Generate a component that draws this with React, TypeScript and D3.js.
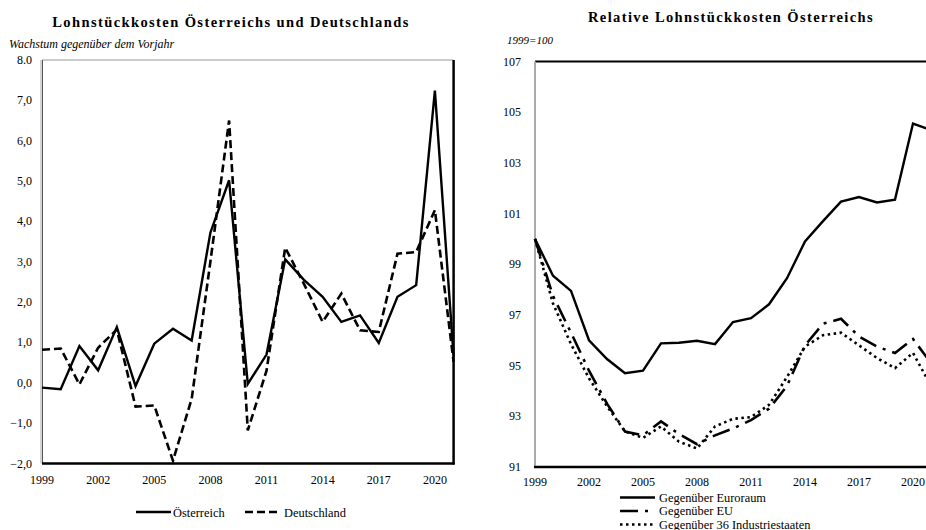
import React, { useRef, useEffect } from 'react';
import * as d3 from 'd3';

// Jahre (Kategorien)
const years = [1999, 2000, 2001, 2002, 2003, 2004, 2005, 2006, 2007, 2008, 2009, 2010,
  2011, 2012, 2013, 2014, 2015, 2016, 2017, 2018, 2019, 2020, 2021];

// Linke Grafik: Wachstum gegenüber dem Vorjahr
const oesterreich = [-0.12, -0.16, 0.91, 0.31, 1.38, -0.08, 0.97, 1.34, 1.05, 3.72, 5.02, -0.03,
  0.7, 3.06, 2.55, 2.13, 1.51, 1.67, 0.99, 2.13, 2.42, 7.24, 0.65];
const deutschland = [0.82, 0.85, -0.04, 0.87, 1.32, -0.59, -0.56, -1.93, -0.4, 3.0, 6.5, -1.18,
  0.3, 3.35, 2.45, 1.51, 2.21, 1.3, 1.26, 3.2, 3.24, 4.28, 0.52];

// Rechte Grafik: 1999=100
const euroraum = [100, 98.55, 97.95, 96.0, 95.26, 94.7, 94.8, 95.88, 95.9, 95.98, 95.85, 96.72,
  96.87, 97.42, 98.45, 99.9, 100.7, 101.47, 101.65, 101.44, 101.55, 104.55, 104.3];
const eu = [100, 97.75, 96.3, 94.8, 93.5, 92.4, 92.25, 92.8, 92.3, 91.9, 92.25, 92.52,
  92.85, 93.3, 94.2, 95.8, 96.65, 96.85, 96.15, 95.75, 95.5, 96.05, 95.1];
const industrie36 = [100, 97.45, 95.85, 94.5, 93.4, 92.4, 92.15, 92.6, 92.0, 91.73, 92.6, 92.9,
  92.97, 93.45, 94.55, 95.75, 96.2, 96.3, 95.8, 95.3, 94.9, 95.5, 94.2];

const xTickYears = [1999, 2002, 2005, 2008, 2011, 2014, 2017, 2020];
const leftYTicks = [8, 7, 6, 5, 4, 3, 2, 1, 0, -1, -2];
const leftYLabels = ['8.0', '7,0', '6,0', '5,0', '4,0', '3,0', '2,0', '1,0', '0,0', '−1,0', '−2,0'];
const rightYTicks = [107, 105, 103, 101, 99, 97, 95, 93, 91];

const FONT = '"Liberation Serif", "Times New Roman", serif';

const App: React.FC = () => {
  const ref = useRef<SVGSVGElement | null>(null);

  useEffect(() => {
    const svg = d3.select(ref.current);
    svg.selectAll('*').remove();
    svg.attr('font-family', FONT);

    // ---------- linke Grafik ----------
    const L = { left: 42, right: 453.6, top: 60, bottom: 463.5 };
    const xL = d3.scaleLinear().domain([1999, 2021]).range([L.left, L.right]);
    const yL = d3.scaleLinear().domain([-2, 8]).range([L.bottom, L.top]);

    svg.append('text')
      .attr('x', 231).attr('y', 26.5)
      .attr('text-anchor', 'middle')
      .attr('font-size', 14.5).attr('font-weight', 'bold')
      .attr('letter-spacing', 1.4)
      .text('Lohnstückkosten Österreichs und Deutschlands');
    svg.append('text')
      .attr('x', 9).attr('y', 48)
      .attr('font-size', 12).attr('font-style', 'italic')
      .text('Wachstum gegenüber dem Vorjahr');

    const gl = svg.append('g');
    // Rahmen
    gl.append('line').attr('x1', L.left).attr('x2', L.right).attr('y1', L.top).attr('y2', L.top)
      .attr('stroke', '#999').attr('stroke-width', 1);
    gl.append('line').attr('x1', L.left - 1).attr('x2', L.left - 1).attr('y1', L.top).attr('y2', L.bottom)
      .attr('stroke', '#aaa').attr('stroke-width', 1);
    gl.append('line').attr('x1', L.left + 0.5).attr('x2', L.left + 0.5).attr('y1', L.top).attr('y2', L.bottom)
      .attr('stroke', '#555').attr('stroke-width', 1);
    gl.append('line').attr('x1', L.right).attr('x2', L.right).attr('y1', L.top).attr('y2', L.bottom + 1)
      .attr('stroke', '#000').attr('stroke-width', 2.5);
    gl.append('line').attr('x1', L.left).attr('x2', L.right + 1).attr('y1', L.bottom).attr('y2', L.bottom)
      .attr('stroke', '#000').attr('stroke-width', 2.5);

    leftYTicks.forEach((t, i) => {
      gl.append('text')
        .attr('x', 32).attr('y', yL(t) + 4)
        .attr('text-anchor', 'end').attr('font-size', 12)
        .text(leftYLabels[i]);
    });
    xTickYears.forEach((t) => {
      gl.append('text')
        .attr('x', xL(t)).attr('y', 484)
        .attr('text-anchor', 'middle').attr('font-size', 12)
        .text(String(t));
    });

    const lineL = d3.line<number>()
      .x((_, i) => xL(years[i]))
      .y((d) => yL(d));

    gl.append('path').datum(deutschland)
      .attr('fill', 'none').attr('stroke', '#000').attr('stroke-width', 2.6)
      .attr('stroke-dasharray', '8,4')
      .attr('d', lineL as any);
    gl.append('path').datum(oesterreich)
      .attr('fill', 'none').attr('stroke', '#000').attr('stroke-width', 2.4)
      .attr('stroke-linejoin', 'miter')
      .attr('d', lineL as any);

    // Legende links
    const legL = svg.append('g').attr('font-size', 12.4);
    legL.append('line').attr('x1', 136).attr('x2', 171).attr('y1', 512).attr('y2', 512)
      .attr('stroke', '#000').attr('stroke-width', 2.6);
    legL.append('text').attr('x', 173).attr('y', 516.5).text('Österreich');
    legL.append('line').attr('x1', 245).attr('x2', 278).attr('y1', 512).attr('y2', 512)
      .attr('stroke', '#000').attr('stroke-width', 2.6).attr('stroke-dasharray', '8,4');
    legL.append('text').attr('x', 284).attr('y', 516.5).text('Deutschland');

    // ---------- rechte Grafik ----------
    const R = { left: 535, right: 931, top: 61.5, bottom: 467 };
    const xR = d3.scaleLinear().domain([1999, 2021]).range([R.left, R.right]);
    const yR = d3.scaleLinear().domain([91, 107]).range([R.bottom, R.top]);

    svg.append('text')
      .attr('x', 731).attr('y', 21.5)
      .attr('text-anchor', 'middle')
      .attr('font-size', 14.5).attr('font-weight', 'bold')
      .attr('letter-spacing', 1.4)
      .text('Relative Lohnstückkosten Österreichs');
    svg.append('text')
      .attr('x', 507).attr('y', 44)
      .attr('font-size', 11).attr('font-style', 'italic')
      .text('1999=100');

    const gr = svg.append('g');
    gr.append('line').attr('x1', R.left).attr('x2', R.right).attr('y1', R.top).attr('y2', R.top)
      .attr('stroke', '#000').attr('stroke-width', 2);
    gr.append('line').attr('x1', R.left).attr('x2', R.left).attr('y1', R.top).attr('y2', R.bottom)
      .attr('stroke', '#aaa').attr('stroke-width', 2);
    gr.append('line').attr('x1', R.left - 1).attr('x2', R.right).attr('y1', R.bottom).attr('y2', R.bottom)
      .attr('stroke', '#000').attr('stroke-width', 2.5);

    rightYTicks.forEach((t) => {
      gr.append('text')
        .attr('x', 521).attr('y', yR(t) + 4)
        .attr('text-anchor', 'end').attr('font-size', 12)
        .text(String(t));
    });
    xTickYears.forEach((t) => {
      gr.append('text')
        .attr('x', xR(t)).attr('y', 486)
        .attr('text-anchor', 'middle').attr('font-size', 12)
        .text(String(t));
    });

    const lineR = d3.line<number>()
      .x((_, i) => xR(years[i]))
      .y((d) => yR(d));

    gr.append('path').datum(industrie36)
      .attr('fill', 'none').attr('stroke', '#000').attr('stroke-width', 2.6)
      .attr('stroke-dasharray', '2.5,3.5')
      .attr('d', lineR as any);
    gr.append('path').datum(eu)
      .attr('fill', 'none').attr('stroke', '#000').attr('stroke-width', 2.6)
      .attr('stroke-dasharray', '18,7,3,7')
      .attr('d', lineR as any);
    gr.append('path').datum(euroraum)
      .attr('fill', 'none').attr('stroke', '#000').attr('stroke-width', 2.4)
      .attr('d', lineR as any);

    // Legende rechts
    const legR = svg.append('g').attr('font-size', 12.4);
    const rows = [
      { label: 'Gegenüber Euroraum', dash: null, y: 497.5 },
      { label: 'Gegenüber EU', dash: '18,7,3,7', y: 511 },
      { label: 'Gegenüber 36 Industriestaaten', dash: '2.5,3.5', y: 524.5 }
    ];
    rows.forEach((r) => {
      const ln = legR.append('line').attr('x1', 620).attr('x2', 655).attr('y1', r.y).attr('y2', r.y)
        .attr('stroke', '#000').attr('stroke-width', 2.6);
      if (r.dash) ln.attr('stroke-dasharray', r.dash);
      legR.append('text').attr('x', 659).attr('y', r.y + 4.3).text(r.label);
    });
  }, []);

  return (
    <svg
      ref={ref}
      width={926}
      height={530}
      style={{ position: 'fixed', left: 0, top: 0, background: '#fff' }}
    />
  );
};

export default App;
